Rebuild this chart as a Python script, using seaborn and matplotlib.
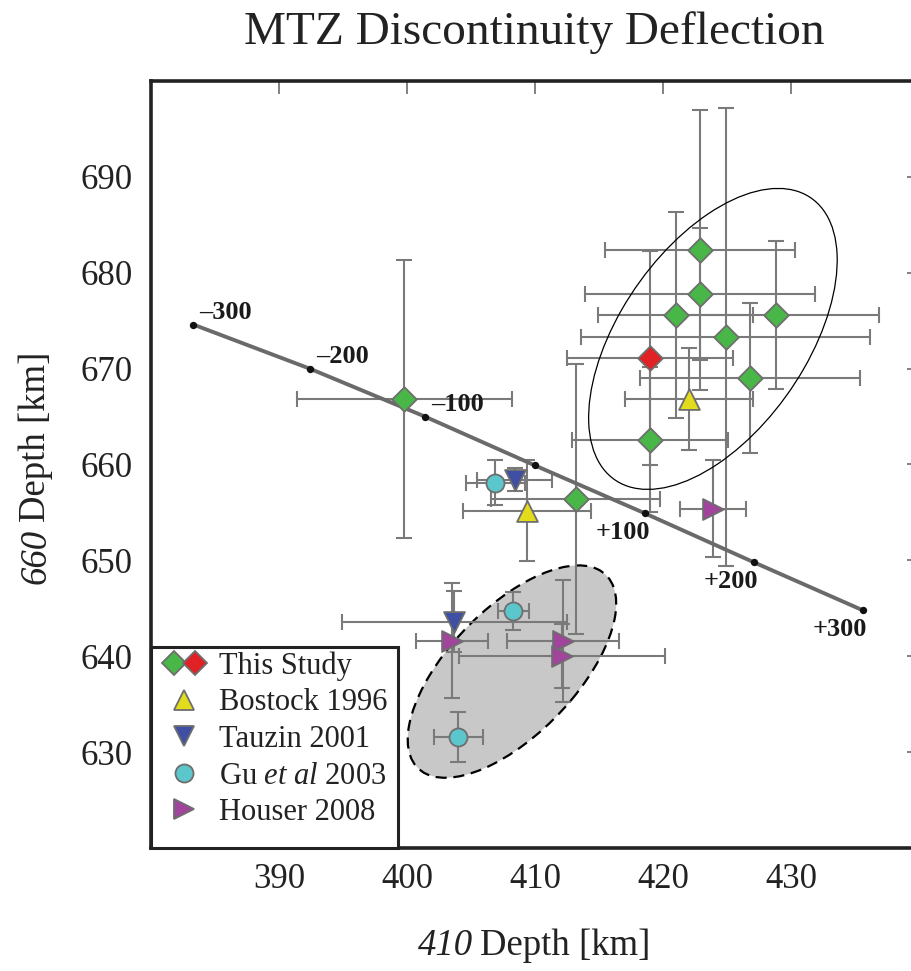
import matplotlib
matplotlib.use("Agg")
import matplotlib.pyplot as plt
import pandas as pd
import seaborn as sns
from matplotlib.patches import Ellipse, Rectangle
from matplotlib.lines import Line2D
from matplotlib.legend_handler import HandlerTuple

sns.set_theme(style="white")
plt.rcParams["font.family"] = ["Liberation Serif", "DejaVu Serif"]
plt.rcParams["mathtext.fontset"] = "custom"
plt.rcParams["mathtext.rm"] = "Liberation Serif"
plt.rcParams["mathtext.it"] = "Liberation Serif:italic"
plt.rcParams["mathtext.bf"] = "Liberation Serif:bold"

# ---- data: 410 / 660 discontinuity depths (km) with uncertainties ----
study_410 = [422.9, 422.9, 421.0, 428.8, 424.9, 419.0, 426.8, 413.2, 399.8]
study_660 = [682.4, 677.8, 675.6, 675.6, 673.3, 662.6, 669.0, 656.4, 666.8]
study_410_err = [7.45, 9.0, 6.05, 8.1, 11.3, 6.1, 8.6, 6.6, 8.4]
study_660_err = [14.6, 6.85, 10.7, 7.7, 23.9, 7.6, 7.8, 14.1, 14.5]

study_red_410 = [419.0]
study_red_660 = [671.1]
study_red_410_err = [6.5]
study_red_660_err = [11.2]

bostock_410 = [422.0, 409.4]
bostock_660 = [666.8, 655.2]
bostock_410_err = [5.0, 5.0]
bostock_660_err = [5.3, 5.3]

tauzin_410 = [408.4, 403.7]
tauzin_660 = [658.4, 643.6]
tauzin_410_err = [2.9, 8.8]
tauzin_660_err = [1.2, 3.2]

gu_410 = [406.9, 408.3, 404.0]
gu_660 = [658.1, 644.7, 631.6]
gu_410_err = [2.3, 1.2, 1.9]
gu_660_err = [2.35, 2.0, 2.6]

houser_410 = [423.9, 403.5, 412.2, 412.1]
houser_660 = [655.4, 641.6, 641.6, 640.0]
houser_410_err = [2.6, 2.8, 4.4, 8.05]
houser_660_err = [5.1, 6.0, 6.4, 3.35]

# temperature-anomaly reference line (K)
clap_dT = [-300, -200, -100, 0, 100, 200, 300]
clap_410 = [383.3, 392.4, 401.4, 410.0, 418.6, 427.1, 435.6]
clap_660 = [674.6, 670.0, 665.0, 659.9, 654.9, 649.8, 644.8]
clap_labels = ["\u2013300", "\u2013200", "\u2013100", "", "+100", "+200", "+300"]

x_ticks = [390, 400, 410, 420, 430]
y_ticks = [630, 640, 650, 660, 670, 680, 690]

# ---- styling ----
EDGE = "#6e6e6e"
ERR = "#7a7a7a"
INK = "#222222"
groups = [
    dict(label="This Study", x=study_410, y=study_660, xe=study_410_err, ye=study_660_err,
         marker="D", color="#48b748", ms=12.5),
    dict(label="This Study (red)", x=study_red_410, y=study_red_660, xe=study_red_410_err,
         ye=study_red_660_err, marker="D", color="#e02227", ms=12.5),
    dict(label="Bostock 1996", x=bostock_410, y=bostock_660, xe=bostock_410_err,
         ye=bostock_660_err, marker="^", color="#e2dc1c", ms=15),
    dict(label="Tauzin 2001", x=tauzin_410, y=tauzin_660, xe=tauzin_410_err,
         ye=tauzin_660_err, marker="v", color="#3f4fa3", ms=15),
    dict(label="Gu et al 2003", x=gu_410, y=gu_660, xe=gu_410_err, ye=gu_660_err,
         marker="o", color="#5bc6cb", ms=13),
    dict(label="Houser 2008", x=houser_410, y=houser_660, xe=houser_410_err,
         ye=houser_660_err, marker=">", color="#a1449c", ms=15),
]

fig = plt.figure(figsize=(9.11, 9.71), dpi=100)
ax = fig.add_axes([151 / 911, 1 - 848 / 971, 768 / 911, 767 / 971])

# cluster outlines
ax.add_patch(Ellipse((408.2, 638.4), 25.2, 11.0, angle=58.0, facecolor="#c8c8c8",
                     edgecolor="black", linestyle=(0, (5, 3)), linewidth=1.6, zorder=1))
ax.add_patch(Ellipse((423.9, 673.1), 33.5, 15.5, angle=66.8, fill=False,
                     edgecolor="black", linewidth=0.9, zorder=5))

# error bars
for g in groups:
    ax.errorbar(g["x"], g["y"], xerr=g["xe"], yerr=g["ye"], fmt="none", ecolor=ERR,
                elinewidth=1.5, capsize=5.5, capthick=1.5, zorder=2)

# reference line with its labelled points
clap = pd.DataFrame({"d410": clap_410, "d660": clap_660, "dT": clap_dT})
sns.lineplot(data=clap, x="d410", y="d660", sort=False, estimator=None, color="#6a6a6a",
             linewidth=2.8, ax=ax, zorder=3)
sns.scatterplot(data=clap, x="d410", y="d660", color="#111111", s=28, linewidth=0,
                ax=ax, zorder=4)
for xv, yv, dT, lab in zip(clap_410, clap_660, clap_dT, clap_labels):
    if not lab:
        continue
    if dT < 0:
        ax.annotate(lab, (xv, yv), xytext=(4.5, 8.5), textcoords="offset points",
                    ha="left", va="center", fontsize=19, fontweight="bold", color="#1a1a1a",
                    zorder=6)
    else:
        ax.annotate(lab, (xv, yv), xytext=(3.3, -14), textcoords="offset points",
                    ha="right", va="center", fontsize=19, fontweight="bold", color="#1a1a1a",
                    zorder=6)

# markers
for g in groups:
    df = pd.DataFrame({"d410": g["x"], "d660": g["y"]})
    sns.scatterplot(data=df, x="d410", y="d660", marker=g["marker"], s=g["ms"] ** 2,
                    color=g["color"], edgecolor=EDGE, linewidth=1.3, ax=ax, zorder=7)

# axes
ax.set_xlim(380, 440)
ax.set_ylim(620, 700)
ax.set_xticks(x_ticks)
ax.set_yticks(y_ticks)
ax.set_xlabel("")
ax.set_ylabel("")
ax.grid(False)
ax.tick_params(axis="both", direction="in", length=9, width=1.3, color="#777777",
               top=True, right=True, labelsize=25, labelcolor=INK)
ax.tick_params(axis="x", pad=11)
ax.tick_params(axis="y", pad=13)
for sp in ax.spines.values():
    sp.set_linewidth(2.6)
    sp.set_color(INK)

fig.text(534 / 911, 1 - 33 / 971, "MTZ Discontinuity Deflection", ha="center", va="center",
         fontsize=34, color=INK)

# axis titles: italic depth name followed by upright text
xl1 = fig.text(418 / 911, 1 - 963 / 971, "410", style="italic", ha="left", va="bottom",
               fontsize=26.5, color=INK)
ax.annotate("Depth [km]", xy=(1, 0), xycoords=xl1, xytext=(5, 0),
            textcoords="offset points", ha="left", va="bottom", fontsize=26.5, color=INK,
            annotation_clip=False)
yl1 = fig.text(36 / 911, 1 - 584 / 971, "660", style="italic", rotation=90, ha="center",
               va="bottom", fontsize=26.5, color=INK)
ax.annotate("Depth [km]", xy=(1, 1), xycoords=yl1, xytext=(0, 5),
            textcoords="offset points", ha="right", va="bottom", rotation=90,
            fontsize=26.5, color=INK, annotation_clip=False)

# legend: boxed panel anchored in the lower-left corner of the axes
ax.add_patch(Rectangle((0, 0), 247 / 768, 201 / 767, transform=ax.transAxes,
                       facecolor="white", edgecolor=INK, linewidth=2.2, zorder=9,
                       clip_on=False))


def handle(g):
    return Line2D([], [], linestyle="none", marker=g["marker"], markersize=g["ms"],
                  markerfacecolor=g["color"], markeredgecolor=EDGE, markeredgewidth=1.3)


handles = [(handle(groups[0]), handle(groups[1]))] + [handle(g) for g in groups[2:]]
labels = ["This Study", "Bostock 1996", "Tauzin 2001", r"Gu $\mathit{et\ al}$ 2003",
          "Houser 2008"]
leg = ax.legend(handles, labels, loc="upper left", bbox_to_anchor=(0, (848 - 639.5) / 767),
                bbox_transform=ax.transAxes, borderaxespad=0, fontsize=22,
                handler_map={tuple: HandlerTuple(ndivide=None, pad=0)},
                handlelength=1.43, handletextpad=0.4, labelspacing=0.25, borderpad=0.38,
                frameon=False)
leg.set_zorder(10)
for t in leg.get_texts():
    t.set_color(INK)

fig.savefig("out.png", dpi=100)
